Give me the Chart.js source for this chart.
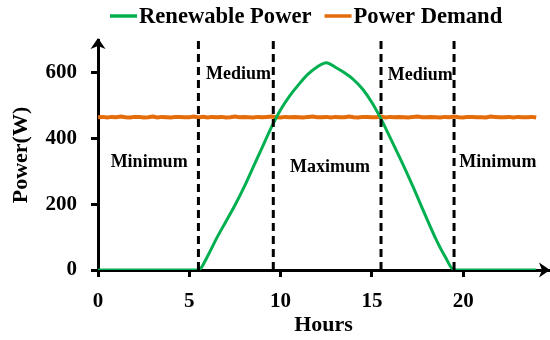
<!DOCTYPE html>
<html>
<head>
<meta charset="utf-8">
<script src="https://cdn.jsdelivr.net/npm/chart.js@4"></script>
<style>
  html, body { margin: 0; padding: 0; background: #fff; }
  #wrap { width: 550px; height: 340px; }
</style>
</head>
<body>
<div id="wrap"><canvas id="chart"></canvas></div>
<script>
// Renewable output sampled every half hour, 0 h .. 24 h (W)
const renewablePower = [
  0, 0, 0, 0, 0, 0, 0, 0, 0, 0, 0, 0,
  42, 97, 147, 197, 252, 313, 374, 435, 488, 530, 565, 596, 618, 631,
  617, 600, 579, 550, 510, 460, 403, 345, 285, 222, 157, 95, 42, 0,
  0, 0, 0, 0, 0, 0, 0, 0, 0
];

// Load demand sampled every quarter hour, 0 h .. 24 h (W)
const powerDemand = [
  465, 466, 464, 466, 465, 467, 465, 464, 466, 466, 464, 465, 467, 464, 466, 465, 464, 466, 466, 465,
  465, 467, 464, 466, 464, 466, 465, 466, 464, 465, 467, 465, 466, 465, 464, 466, 465, 466, 467, 465,
  464, 466, 465, 466, 465, 464, 466, 467, 465, 465, 466, 464, 466, 465, 465, 467, 465, 464, 466, 466,
  465, 465, 467, 464, 466, 465, 466, 465, 464, 466, 467, 465, 465, 466, 465, 464, 466, 465, 467, 465,
  464, 466, 466, 465, 465, 464, 467, 466, 465, 465, 466, 464, 466, 465, 465, 466, 464
];

// Hours separating the operating zones
const zoneBoundaries = [5.5, 9.6, 15.5, 19.5];
const zoneNames = ['Minimum', 'Medium', 'Maximum', 'Medium', 'Minimum'];

const xTicks = [0, 5, 10, 15, 20];
const yTicks = [0, 200, 400, 600];

const seriesNames = ['Renewable Power', 'Power Demand'];

// ---- presentation ----
const GREEN = '#00B050';
const ORANGE = '#E46C0A';
const FONT = '"Liberation Serif", "Times New Roman", serif';
const X_MAX = 24.7;
const Y_MAX = 700;
// label anchor (hour, watts) for each zone name
const zoneLabelAnchors = [[2.8, 329], [7.7, 594], [12.7, 311], [17.65, 591], [21.9, 329]];

const renewableHours = renewablePower.map((_, i) => i * 0.5);
const demandHours = powerDemand.map((_, i) => i * 0.25);
const toPoints = (xs, ys) => ys.map((y, i) => ({ x: xs[i], y }));

const boundarySets = zoneBoundaries.map(h => ({
  label: '',
  boundary: true,
  data: [{ x: h, y: 0 }, { x: h, y: Y_MAX }],
  borderColor: '#000',
  borderWidth: 3,
  borderDash: [8, 5],
  pointRadius: 0,
  order: 0
}));

const decorations = {
  id: 'decorations',
  afterDatasetsDraw(chart) {
    const { ctx, scales: { x, y } } = chart;
    ctx.save();
    ctx.fillStyle = '#000';
    ctx.font = 'bold 18px ' + FONT;
    ctx.textAlign = 'center';
    ctx.textBaseline = 'middle';
    zoneNames.forEach((name, i) => {
      const [h, w] = zoneLabelAnchors[i];
      ctx.fillText(name, x.getPixelForValue(h), y.getPixelForValue(w));
    });
    ctx.restore();
  },
  afterDraw(chart) {
    const { ctx, chartArea: a } = chart;
    ctx.save();
    ctx.fillStyle = '#000';
    // arrow head at the end of the x axis
    const ax = a.right + 1, ay = a.bottom;
    ctx.beginPath();
    ctx.moveTo(ax, ay);
    ctx.lineTo(ax - 11, ay - 7.5);
    ctx.lineTo(ax - 8, ay);
    ctx.lineTo(ax - 11, ay + 7.5);
    ctx.closePath();
    ctx.fill();
    // arrow head at the top of the y axis
    const bx = a.left, by = a.top - 2;
    ctx.beginPath();
    ctx.moveTo(bx, by);
    ctx.lineTo(bx - 7.5, by + 11);
    ctx.lineTo(bx, by + 8);
    ctx.lineTo(bx + 7.5, by + 11);
    ctx.closePath();
    ctx.fill();

    // legend
    ctx.font = 'bold 22.6px ' + FONT;
    ctx.textBaseline = 'middle';
    ctx.textAlign = 'left';
    let lx = 110;
    const ly = 16;
    chart.data.datasets.filter(d => !d.boundary).forEach(d => {
      ctx.strokeStyle = d.borderColor;
      ctx.lineWidth = 3.5;
      ctx.beginPath();
      ctx.moveTo(lx, ly);
      ctx.lineTo(lx + 27, ly);
      ctx.stroke();
      ctx.fillStyle = '#000';
      ctx.fillText(d.label, lx + 29, ly + 1);
      lx += 29 + ctx.measureText(d.label).width + 13;
    });
    ctx.restore();
  }
};

const tickFont = { family: FONT, size: 21, weight: 'bold' };
const titleFont = { family: FONT, size: 22, weight: 'bold' };
const axisGrid = {
  drawOnChartArea: false,
  drawTicks: true,
  tickLength: 7,
  tickWidth: 3,
  tickColor: '#000',
  color: '#000'
};

new Chart(document.getElementById('chart'), {
  type: 'line',
  data: {
    datasets: [
      {
        label: seriesNames[0],
        data: toPoints(renewableHours, renewablePower),
        borderColor: GREEN,
        borderWidth: 3,
        pointRadius: 0,
        cubicInterpolationMode: 'monotone',
        order: 1
      },
      {
        label: seriesNames[1],
        data: toPoints(demandHours, powerDemand),
        borderColor: ORANGE,
        borderWidth: 4,
        pointRadius: 0,
        tension: 0,
        order: 2
      },
      ...boundarySets
    ]
  },
  options: {
    responsive: true,
    maintainAspectRatio: false,
    animation: false,
    layout: { padding: { top: 40, right: 1, left: 0, bottom: 0 } },
    plugins: { legend: { display: false }, tooltip: { enabled: false } },
    scales: {
      x: {
        type: 'linear',
        min: 0,
        max: X_MAX,
        afterBuildTicks: s => { s.ticks = xTicks.map(v => ({ value: v })); },
        afterFit: s => { s.height = 70; },
        ticks: { font: tickFont, color: '#000', padding: 12, maxRotation: 0 },
        grid: axisGrid,
        border: { display: true, color: '#000', width: 3 },
        title: { display: true, text: 'Hours', font: titleFont, color: '#000', padding: { top: 0, bottom: 1 } }
      },
      y: {
        min: 0,
        max: Y_MAX,
        afterBuildTicks: s => { s.ticks = yTicks.map(v => ({ value: v })); },
        afterFit: s => { s.width = 98; },
        ticks: { font: tickFont, color: '#000', padding: 14 },
        grid: axisGrid,
        border: { display: true, color: '#000', width: 3 },
        title: { display: true, text: 'Power(W)', font: titleFont, color: '#000', padding: { top: 8, bottom: 0 } }
      }
    }
  },
  plugins: [decorations]
});
</script>
</body>
</html>
